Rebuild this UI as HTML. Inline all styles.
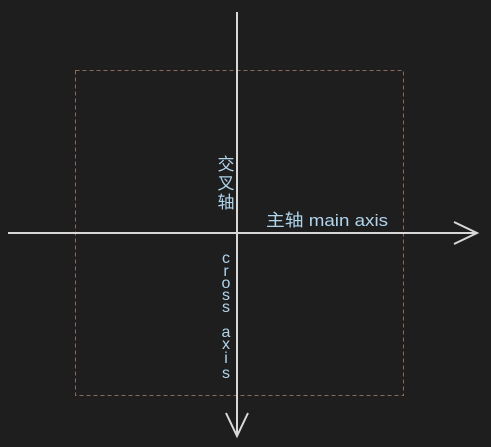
<!DOCTYPE html>
<html><head><meta charset="utf-8"><style>
html,body{margin:0;padding:0;background:#1e1e1e;}
svg{display:block;}
text{font-family:"Liberation Sans","Noto Sans CJK SC",sans-serif;fill:#b0d4ec;}
</style></head><body>
<svg width="491" height="447" viewBox="0 0 491 447">
<rect x="0" y="0" width="491" height="447" fill="#1e1e1e"/>
<rect x="75.5" y="70.5" width="328" height="325" fill="none" stroke="#8a6b58" stroke-width="1" stroke-dasharray="4,3"/>
<line x1="8" y1="233" x2="477" y2="233" stroke="#d8d8d8" stroke-width="2"/>
<polyline points="454,222 477,233 454,244" fill="none" stroke="#d8d8d8" stroke-width="2"/>
<line x1="237" y1="12" x2="237" y2="436" stroke="#d8d8d8" stroke-width="2"/>
<polyline points="226,413 237,436 248,413" fill="none" stroke="#d8d8d8" stroke-width="2"/>
<g font-size="17" text-anchor="middle">
<text x="226" y="170">交</text><text x="226" y="189">叉</text><text x="226" y="208">轴</text>
</g>
<text x="266" y="226" font-size="17" textLength="122" lengthAdjust="spacingAndGlyphs">主轴 main axis</text>
<g font-size="16" text-anchor="middle">
<text x="226" y="263">c</text><text x="226" y="276">r</text><text x="226" y="288">o</text><text x="226" y="300">s</text><text x="226" y="312">s</text>
<text x="226" y="337">a</text><text x="226" y="349">x</text><text x="226" y="363">i</text><text x="226" y="378">s</text>
</g>
</svg>
</body></html>
